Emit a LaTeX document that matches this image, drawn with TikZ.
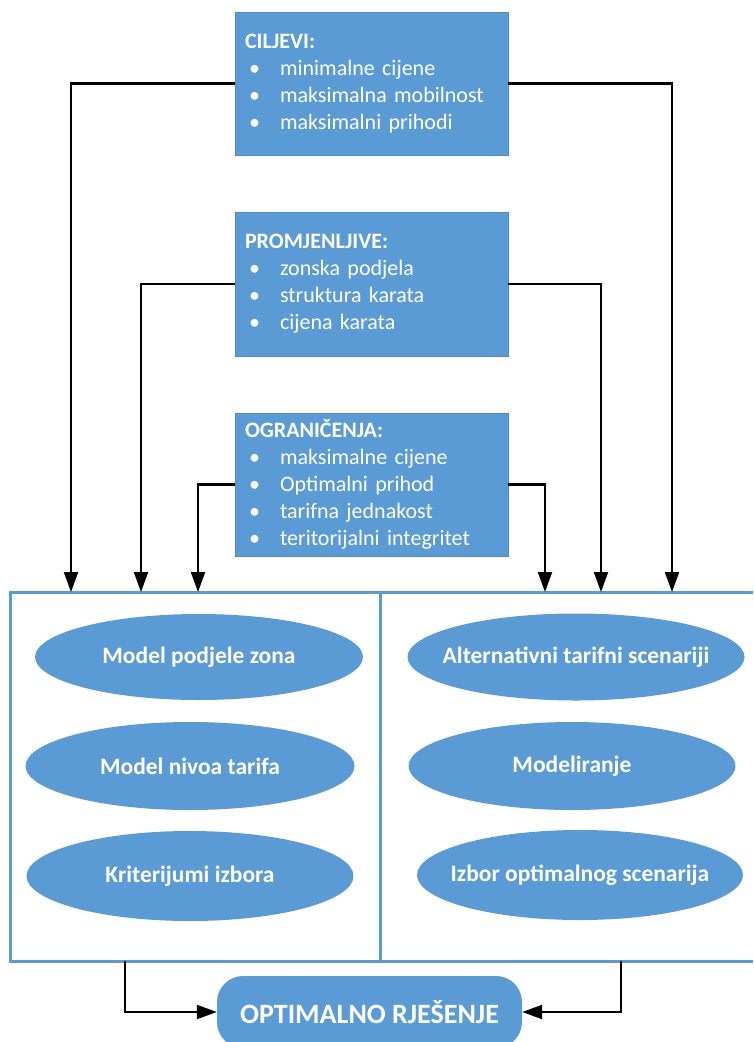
\documentclass[tikz,border=0pt]{standalone}
\usepackage{fontspec}
\setmainfont{Carlito}
\usetikzlibrary{arrows.meta,shapes.geometric}
\definecolor{obl}{HTML}{5B9BD5}
\newcommand{\bl}[1]{\makebox[35pt][l]{\hspace{4pt}•}#1}
\tikzset{
  infobox/.style={fill=obl, draw=obl!90!black, line width=0.4pt, minimum width=273pt, minimum height=143pt,
    text width=253pt, inner xsep=10pt, inner ysep=0pt, align=left, text=white,
    font=\fontsize{22}{27}\selectfont},
  ell/.style={ellipse, fill=obl, draw=none, inner sep=0pt},
  elltxt/.style={text=white, font=\fontsize{23.5}{27}\selectfont\bfseries},
  conn/.style={line width=2.2pt, black, -{Triangle[length=20pt,width=14pt]}},
  frame/.style={draw=obl, line width=3pt},
  optbox/.style={fill=obl, rounded corners=26pt, minimum width=305pt, minimum height=72pt, inner sep=0pt,
    text=white, font=\fontsize{28}{32}\selectfont\bfseries}
}
\begin{document}
\begin{tikzpicture}[x=1pt,y=-1pt]
\useasboundingbox (0,0) rectangle (753,1042);
% info boxes
\node[infobox] (b1) at (371.5,83.5) {\textbf{CILJEVI:}\\\bl{minimalne cijene}\\\bl{maksimalna mobilnost}\\\bl{maksimalni prihodi}};
\node[infobox, minimum height=144pt] (b2) at (371.5,284) {\textbf{PROMJENLJIVE:}\\\bl{zonska podjela}\\\bl{struktura karata}\\\bl{cijena karata}};
\node[infobox] (b3) at (371.5,484.5) {\textbf{OGRANIČENJA:}\\\bl{maksimalne cijene}\\\bl{Optimalni prihod}\\\bl{tarifna jednakost}\\\bl{teritorijalni integritet}};
% frame
\coordinate (fTL) at (10,592);
\coordinate (fTR) at (753,592);
\coordinate (fBL) at (10,961);
\coordinate (fBR) at (753,961);
\coordinate (dT) at (380,592);
\coordinate (dB) at (380,961);
\draw[frame] (fTR) -- (fTL) -- (fBL) -- (fBR);
\draw[frame] (dT) -- (dB);
% arrow targets
\coordinate (t1) at (71,592);
\coordinate (t2) at (141,592);
\coordinate (t3) at (198,592);
\coordinate (t4) at (545,592);
\coordinate (t5) at (601,592);
\coordinate (t6) at (672,592);
\draw[conn] (b1.west) -| (t1);
\draw[conn] (b2.west) -| (t2);
\draw[conn] (b3.west) -| (t3);
\draw[conn] (b3.east) -| (t4);
\draw[conn] (b2.east) -| (t5);
\draw[conn] (b1.east) -| (t6);
% ellipses
\node[ell, minimum width=328pt, minimum height=86pt, label={[elltxt]center:Model podjele zona}] (l1) at (199,657) {};
\node[ell, minimum width=329pt, minimum height=88pt, label={[elltxt]center:Model nivoa tarifa}] (l2) at (190,766) {};
\node[ell, minimum width=327pt, minimum height=90pt, label={[elltxt]center:Kriterijumi izbora}] (l3) at (190,876) {};
\node[ell, minimum width=337pt, minimum height=87pt, label={[elltxt]center:Alternativni tarifni scenariji}] (r1) at (576,657) {};
\node[ell, minimum width=327pt, minimum height=88pt, label={[elltxt]center:Modeliranje}] (r2) at (572,766) {};
\node[ell, minimum width=326pt, minimum height=90pt, label={[elltxt]center:Izbor optimalnog scenarija}] (r3) at (580,875) {};
% result
\node[optbox] (opt) at (369.5,1012) {OPTIMALNO RJEŠENJE};
\coordinate (s1) at (125,961);
\coordinate (s2) at (621,961);
\draw[conn] (s1) |- (opt.west);
\draw[conn] (s2) |- (opt.east);
\end{tikzpicture}
\end{document}
